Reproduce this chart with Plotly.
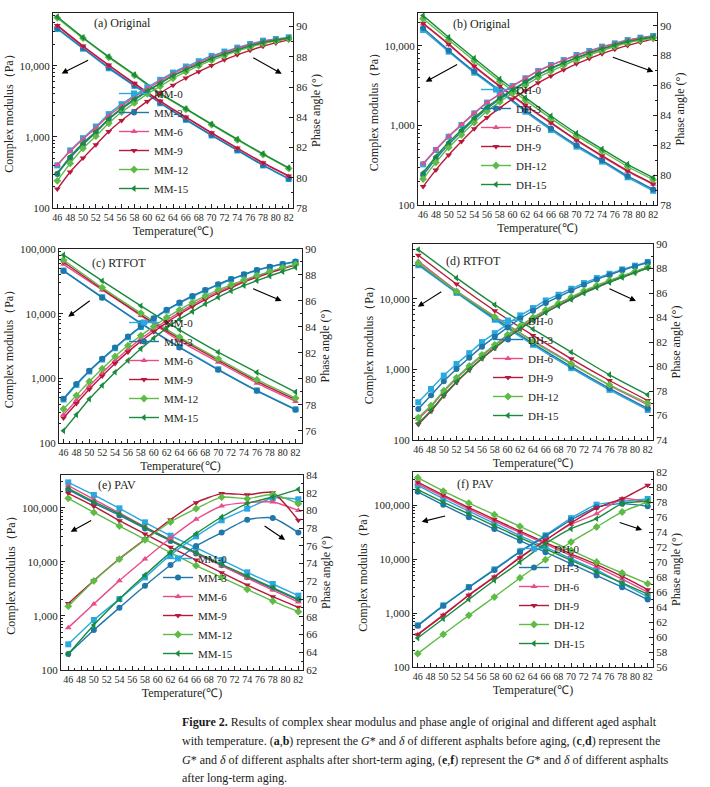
import plotly.graph_objects as go

W, H = 710, 787
FONT = "Liberation Serif, Times New Roman, serif"
INK = "#231f20"

# ---------------- data ----------------
T2 = [46, 48, 50, 52, 54, 56, 58, 60, 62, 64, 66, 68, 70, 72, 74, 76, 78, 80, 82]
T4 = [46, 50, 54, 58, 62, 66, 70, 74, 78, 82]
T6 = [46, 52, 58, 64, 70, 76, 82]
MOD_TICKS = [100, 1000, 10000, 100000]
MOD_TICK_TEXT = ["100", "1,000", "10,000", "100,000"]
AGES = ["0", "3", "6", "9", "12", "15"]
COLORS = ["#2aa8e0", "#1f76a8", "#e84c8b", "#b8183a", "#5dbb46", "#1a8a3c"]
SYMBOLS = ["square", "circle", "triangle-up", "triangle-down", "diamond", "triangle-left"]

# (a) Original, MM
A_MOD = {
    "0": [32700, 17300, 9180, 5190, 2960, 1730, 1044, 643, 396, 255],
    "3": [33500, 17700, 9400, 5300, 3020, 1760, 1060, 652, 402, 259],
    "6": [36000, 18500, 10000, 5530, 3130, 1870, 1125, 686, 427, 278],
    "9": [36800, 18900, 10200, 5640, 3190, 1900, 1140, 697, 433, 282],
    "12": [47000, 24300, 13100, 7300, 4000, 2440, 1480, 905, 565, 360],
    "15": [48600, 24900, 13400, 7480, 4090, 2490, 1510, 927, 578, 367],
}
A_PH = {
    "0": [80.82, 81.81, 82.62, 83.39, 84.21, 84.87, 85.44, 85.99, 86.48, 86.96, 87.36, 87.71, 88.06, 88.35, 88.61, 88.85, 89.07, 89.18, 89.29],
    "3": [80.25, 81.3, 82.2, 83.0, 83.85, 84.55, 85.15, 85.72, 86.25, 86.75, 87.16, 87.53, 87.9, 88.2, 88.48, 88.73, 88.96, 89.1, 89.22],
    "6": [80.85, 81.75, 82.55, 83.3, 84.1, 84.75, 85.35, 85.9, 86.4, 86.88, 87.28, 87.63, 87.98, 88.28, 88.55, 88.8, 89.02, 89.15, 89.27],
    "9": [79.25, 80.38, 81.3, 82.18, 83.06, 83.79, 84.43, 85.05, 85.6, 86.12, 86.6, 87.02, 87.42, 87.8, 88.13, 88.43, 88.7, 88.92, 89.12],
    "12": [79.8, 80.95, 81.95, 82.75, 83.6, 84.35, 84.95, 85.55, 86.05, 86.58, 87.0, 87.4, 87.76, 88.08, 88.38, 88.64, 88.88, 89.05, 89.2],
    "15": [80.3, 81.4, 82.3, 83.05, 83.9, 84.6, 85.2, 85.75, 86.25, 86.75, 87.15, 87.52, 87.88, 88.18, 88.46, 88.72, 88.95, 89.1, 89.25],
}

# (b) Original, DH
B_MOD = {
    "0": [15900, 8490, 4620, 2670, 1490, 877, 542, 351, 223, 151],
    "3": [16800, 8800, 4800, 2760, 1550, 920, 565, 365, 232, 157],
    "6": [19000, 10400, 5500, 3080, 1780, 1070, 650, 410, 265, 182],
    "9": [19300, 10600, 5600, 3140, 1810, 1087, 658, 417, 270, 184],
    "12": [22000, 12000, 6500, 3600, 2080, 1230, 745, 475, 305, 208],
    "15": [24100, 12900, 7000, 3850, 2240, 1318, 797, 506, 325, 221],
}
B_PH = {
    "0": [80.72, 81.68, 82.57, 83.35, 84.13, 84.85, 85.41, 85.96, 86.48, 86.97, 87.37, 87.7, 88.04, 88.31, 88.6, 88.82, 89.04, 89.2, 89.31],
    "3": [80.0, 81.1, 82.05, 82.9, 83.72, 84.45, 85.08, 85.65, 86.2, 86.7, 87.12, 87.5, 87.85, 88.15, 88.45, 88.7, 88.93, 89.1, 89.24],
    "6": [80.78, 81.72, 82.6, 83.38, 84.15, 84.86, 85.42, 85.97, 86.48, 86.96, 87.35, 87.68, 88.02, 88.29, 88.57, 88.8, 89.02, 89.18, 89.3],
    "9": [79.23, 80.35, 81.35, 82.25, 83.1, 83.85, 84.5, 85.1, 85.65, 86.18, 86.63, 87.05, 87.45, 87.8, 88.13, 88.42, 88.68, 88.9, 89.1],
    "12": [79.74, 80.85, 81.85, 82.7, 83.52, 84.27, 84.9, 85.48, 86.02, 86.53, 86.96, 87.35, 87.72, 88.04, 88.34, 88.61, 88.86, 89.03, 89.18],
    "15": [80.16, 81.25, 82.2, 83.02, 83.82, 84.55, 85.15, 85.72, 86.25, 86.74, 87.15, 87.52, 87.87, 88.17, 88.46, 88.71, 88.94, 89.1, 89.24],
}

# (c) RTFOT, MM
C_MOD = {
    "0": [46500, 18000, 7000, 3050, 1380, 650, 332],
    "3": [45800, 17700, 7130, 3000, 1355, 642, 327],
    "6": [58000, 23300, 9350, 3800, 1780, 843, 440],
    "9": [63000, 24000, 9600, 4100, 1900, 900, 470],
    "12": [67700, 25300, 10200, 4340, 2000, 951, 495],
    "15": [80900, 32100, 13200, 5620, 2540, 1233, 613],
}
C_PH = {
    "0": [78.4, 79.52, 80.56, 81.48, 82.35, 83.2, 83.98, 84.62, 85.26, 85.82, 86.33, 86.8, 87.24, 87.65, 88.01, 88.34, 88.6, 88.82, 89.0],
    "3": [78.46, 79.59, 80.62, 81.54, 82.41, 83.26, 84.03, 84.67, 85.31, 85.87, 86.38, 86.85, 87.28, 87.69, 88.05, 88.38, 88.64, 88.85, 89.03],
    "6": [77.23, 78.35, 79.45, 80.45, 81.4, 82.28, 83.08, 83.8, 84.5, 85.12, 85.7, 86.23, 86.72, 87.13, 87.54, 87.9, 88.22, 88.53, 88.8],
    "9": [76.97, 78.1, 79.2, 80.22, 81.18, 82.07, 82.88, 83.62, 84.33, 84.97, 85.56, 86.1, 86.6, 87.03, 87.45, 87.82, 88.16, 88.48, 88.76],
    "12": [77.67, 78.72, 79.79, 80.77, 81.72, 82.56, 83.33, 84.03, 84.72, 85.31, 85.87, 86.38, 86.85, 87.23, 87.62, 87.95, 88.26, 88.56, 88.82],
    "15": [76.0, 77.23, 78.44, 79.49, 80.51, 81.41, 82.31, 83.13, 83.9, 84.59, 85.18, 85.77, 86.28, 86.77, 87.18, 87.56, 87.92, 88.26, 88.59],
}

# (d) RTFOT, DH
D_MOD = {
    "0": [30100, 12200, 5080, 2240, 1045, 514, 267],
    "3": [31500, 12600, 5300, 2350, 1100, 540, 280],
    "6": [34400, 13100, 5670, 2560, 1231, 593, 315],
    "9": [41800, 16300, 6820, 3040, 1418, 698, 362],
    "12": [32500, 12800, 5550, 2500, 1203, 605, 332],
    "15": [50200, 19900, 8300, 3740, 1763, 840, 437],
}
D_PH = {
    "0": [77.08, 78.17, 79.26, 80.21, 81.09, 81.99, 82.72, 83.46, 84.17, 84.77, 85.39, 85.86, 86.35, 86.81, 87.22, 87.57, 87.93, 88.23, 88.53],
    "3": [76.53, 77.65, 78.8, 79.8, 80.72, 81.62, 82.42, 83.18, 83.92, 84.55, 85.18, 85.68, 86.2, 86.67, 87.1, 87.47, 87.85, 88.17, 88.48],
    "6": [75.72, 76.72, 77.95, 79.02, 79.98, 80.88, 81.7, 82.52, 83.25, 83.94, 84.57, 85.12, 85.62, 86.14, 86.58, 86.99, 87.38, 87.73, 88.1],
    "9": [75.28, 76.35, 77.6, 78.72, 79.72, 80.65, 81.5, 82.33, 83.08, 83.78, 84.42, 84.98, 85.5, 86.03, 86.48, 86.9, 87.3, 87.68, 88.06],
    "12": [75.83, 76.81, 78.03, 79.1, 80.05, 80.95, 81.77, 82.59, 83.32, 84.0, 84.63, 85.17, 85.67, 86.18, 86.62, 87.03, 87.41, 87.76, 88.12],
    "15": [75.36, 76.42, 77.65, 78.75, 79.75, 80.68, 81.52, 82.34, 83.08, 83.77, 84.4, 84.96, 85.48, 86.0, 86.45, 86.88, 87.28, 87.65, 88.04],
}

# (e) PAV, MM
E_MOD = {
    "0": [294000, 172000, 97400, 53700, 30400, 18200, 10800, 6390, 3890, 2370],
    "3": [215000, 122000, 72000, 41500, 24300, 14200, 8600, 5200, 3200, 1950],
    "6": [255000, 142000, 80000, 44500, 25500, 14500, 8500, 5000, 3000, 1800],
    "9": [185000, 107000, 57500, 32700, 18500, 10800, 6300, 3720, 2270, 1440],
    "12": [149000, 82000, 45900, 26000, 14800, 8500, 5170, 3100, 1880, 1200],
    "15": [228000, 129000, 76500, 43400, 25300, 14800, 8980, 5470, 3330, 2025],
}
E_PH = {
    "0": [64.9, 67.64, 70.01, 72.45, 74.97, 77.08, 78.89, 80.2, 81.4, 81.26],
    "3": [63.8, 66.51, 69.03, 71.51, 73.85, 75.99, 77.5, 78.96, 79.15, 77.5],
    "6": [66.78, 69.45, 72.08, 74.52, 76.9, 79.0, 80.5, 80.88, 80.95, 80.0],
    "9": [69.5, 72.1, 74.55, 76.75, 78.96, 80.88, 81.9, 81.78, 82.0, 78.89],
    "12": [69.2, 72.05, 74.5, 76.67, 78.7, 80.2, 81.5, 81.33, 81.8, 80.77],
    "15": [63.8, 67.08, 70.01, 72.72, 75.24, 77.38, 79.26, 80.77, 81.52, 82.38],
}

# (f) PAV, DH
F_MOD = {
    "0": [234000, 132000, 77600, 46200, 27500, 16800, 10200, 6310, 3550, 2000],
    "3": [178000, 102000, 60300, 36300, 22100, 13500, 8220, 5010, 3020, 1780],
    "6": [251000, 145000, 85000, 51000, 31000, 19000, 11700, 7240, 4270, 2450],
    "9": [270000, 155000, 91000, 55000, 33100, 20400, 12600, 7940, 4790, 2720],
    "12": [326000, 184000, 110000, 67000, 40700, 24100, 14600, 8880, 5550, 3520],
    "15": [195000, 115000, 69000, 41700, 25100, 15500, 9550, 5890, 3630, 2240],
}
F_PH = {
    "0": [61.56, 64.22, 66.67, 69.02, 71.42, 73.56, 75.85, 77.64, 78.1, 78.4],
    "3": [61.5, 64.15, 66.6, 68.95, 71.35, 73.45, 75.6, 77.3, 77.78, 77.42],
    "6": [60.35, 62.95, 65.6, 68.05, 70.62, 72.93, 75.0, 76.44, 78.44, 78.0],
    "9": [60.31, 62.89, 65.56, 68.0, 70.58, 72.89, 75.2, 77.2, 78.44, 80.22],
    "12": [57.78, 60.36, 62.89, 65.33, 67.87, 70.31, 72.67, 74.67, 76.67, 78.0],
    "15": [59.87, 62.44, 65.02, 67.56, 70.0, 72.44, 74.44, 75.78, 77.78, 78.1],
}

PANELS = [
    dict(prefix="MM", label="(a) Original", xm=T4, mod=A_MOD, xp=T2, ph=A_PH,
         box=(53, 13, 293, 208), xr=[45.33, 82.67], yl=[2, 4.74], yr=[78, 90.9],
         lab=(92, 23), leg=(114, 203),
         arrows=[(0.036, 0.69, 28, -14), (0.953, 0.688, -30, -17)]),
    dict(prefix="DH", label="(b) Original", xm=T4, mod=B_MOD, xp=T2, ph=B_PH,
         box=(418, 13, 657, 205), xr=[45.2, 82.6], yl=[2, 4.415], yr=[78, 90.85],
         lab=(451, 24), leg=(476, 199),
         arrows=[(0.032, 0.642, 33, -18), (0.985, 0.694, -42, -15)]),
    dict(prefix="MM", label="(c) RTFOT", xm=T6, mod=C_MOD, xp=T2, ph=C_PH,
         box=(59, 249, 302, 443), xr=[45.3, 83.0], yl=[2, 5.0], yr=[75.05, 90],
         lab=(90, 263), leg=(124, 432),
         arrows=[(0.038, 0.651, 23, -17), (0.916, 0.732, -30, -13)]),
    dict(prefix="DH", label="(d) RTFOT", xm=T6, mod=D_MOD, xp=T2, ph=D_PH,
         box=(413, 244, 653, 440), xr=[45.17, 82.83], yl=[2, 4.78], yr=[74, 90],
         lab=(444, 261), leg=(488, 430),
         arrows=[(0.02, 0.68, 25, -16), (0.929, 0.709, -28, -13)]),
    dict(prefix="MM", label="(e) PAV", xm=T4, mod=E_MOD, xp=T4, ph=E_PH,
         box=(61, 475, 303, 670), xr=[44.86, 82.73], yl=[2, 5.605], yr=[62, 84],
         lab=(96, 485), leg=(158, 668),
         arrows=[(0.04, 0.709, 22, -12), (0.926, 0.667, -22, -15)]),
    dict(prefix="DH", label="(f) PAV", xm=T4, mod=F_MOD, xp=T4, ph=F_PH,
         box=(413, 472, 653, 667), xr=[45.26, 82.83], yl=[2, 5.618], yr=[56, 82],
         lab=(455, 484), leg=(514, 658),
         arrows=[(0.036, 0.745, 25, -6), (0.955, 0.703, -24, -8)]),
]

CAPTION = [
    "<b>Figure 2.</b> Results of complex shear modulus and phase angle of original and different aged asphalt",
    "with temperature. (<b>a</b>,<b>b</b>) represent the <i>G</i>* and <i>δ</i> of different asphalts before aging, (<b>c</b>,<b>d</b>) represent the",
    "<i>G</i>* and <i>δ</i> of different asphalts after short-term aging, (<b>e</b>,<b>f</b>) represent the <i>G</i>* and <i>δ</i> of different asphalts",
    "after long-term aging.",
]
CAPTION_Y = [722, 741, 760, 778]
CAPTION_X = 180


def sid(n):
    return "" if n == 1 else str(n)


fig = go.Figure()
layout = dict(
    width=W, height=H, autosize=False,
    margin=dict(l=0, r=0, t=0, b=0),
    paper_bgcolor="white", plot_bgcolor="white",
    font=dict(family=FONT, color=INK, size=11),
    annotations=[],
)

axis_common = dict(showline=True, linecolor=INK, linewidth=1, ticks="inside",
                   tickcolor=INK, ticklen=4, showgrid=False, zeroline=False,
                   automargin=False,
                   tickfont=dict(family=FONT, size=11, color=INK))

for i, p in enumerate(PANELS, start=1):
    x0, y0, x1, y1 = p["box"]
    xdom = [x0 / W, x1 / W]
    ydom = [1 - y1 / H, 1 - y0 / H]
    xid, yid, rid = "x" + sid(i), "y" + sid(i), "y" + str(i + 6)
    legname = "legend" + sid(i)

    for k, age in enumerate(AGES):
        name = f"{p['prefix']}-{age}"
        fig.add_trace(go.Scatter(
            x=p["xm"], y=p["mod"][age], name=name, mode="lines+markers",
            xaxis=xid, yaxis=yid, legend=legname, showlegend=True,
            line=dict(color=COLORS[k], width=1.4, shape="spline", smoothing=0.6),
            marker=dict(symbol=SYMBOLS[k], size=6, color=COLORS[k]),
        ))
        fig.add_trace(go.Scatter(
            x=p["xp"], y=p["ph"][age], name=name, mode="lines+markers",
            xaxis=xid, yaxis=rid, legend=legname, showlegend=False,
            line=dict(color=COLORS[k], width=1.4, shape="spline", smoothing=0.6),
            marker=dict(symbol=SYMBOLS[k], size=6, color=COLORS[k]),
        ))

    layout["xaxis" + sid(i)] = dict(
        axis_common, domain=xdom, anchor=yid, range=p["xr"],
        tickmode="array", tickvals=T2, mirror=True, tickangle=0,
        tickfont=dict(family=FONT, size=10, color=INK),
        minor=dict(dtick=1, ticks="inside", ticklen=2, tickcolor=INK),
        title=dict(text="Temperature(℃)", standoff=4,
                   font=dict(family=FONT, size=12, color=INK)),
    )
    layout["yaxis" + sid(i)] = dict(
        axis_common, domain=ydom, anchor=xid, type="log", range=p["yl"],
        tickmode="array", tickvals=MOD_TICKS, ticktext=MOD_TICK_TEXT,
        minor=dict(dtick="D1", ticks="inside", ticklen=2, tickcolor=INK),
        title=dict(text="Complex modulus（Pa）", standoff=3,
                   font=dict(family=FONT, size=12, color=INK)),
    )
    layout["yaxis" + str(i + 6)] = dict(
        axis_common, overlaying=yid, anchor=xid, side="right", range=p["yr"],
        dtick=2, tick0=0,
        minor=dict(dtick=1, ticks="inside", ticklen=2, tickcolor=INK),
        title=dict(text="Phase angle (°)", standoff=4,
                   font=dict(family=FONT, size=12, color=INK)),
    )
    lx, ly = p["leg"]
    layout[legname] = dict(
        x=lx / W, y=1 - ly / H, xanchor="left", yanchor="bottom",
        bgcolor="rgba(0,0,0,0)", borderwidth=0,
        font=dict(family=FONT, size=11, color=INK), itemwidth=30,
        tracegroupgap=0,
    )
    tx, ty = p["lab"]
    layout["annotations"].append(dict(
        xref="paper", yref="paper", x=tx / W, y=1 - ty / H, xanchor="left",
        yanchor="middle", text=p["label"], showarrow=False,
        font=dict(family=FONT, size=12, color=INK)))
    for (hx, hy, ax, ay) in p["arrows"]:
        layout["annotations"].append(dict(
            xref=xid + " domain", yref=yid + " domain", x=hx, y=hy,
            ax=ax, ay=ay, text="", showarrow=True, arrowhead=2,
            arrowsize=1.1, arrowwidth=1.1, arrowcolor="black"))

for line, yy in zip(CAPTION, CAPTION_Y):
    layout["annotations"].append(dict(
        xref="paper", yref="paper", x=CAPTION_X / W, y=1 - yy / H,
        xanchor="left", yanchor="middle", text=line, showarrow=False,
        font=dict(family=FONT, size=12, color="#1a1a1a")))

fig.update_layout(**layout)
fig.write_html("out.html")
